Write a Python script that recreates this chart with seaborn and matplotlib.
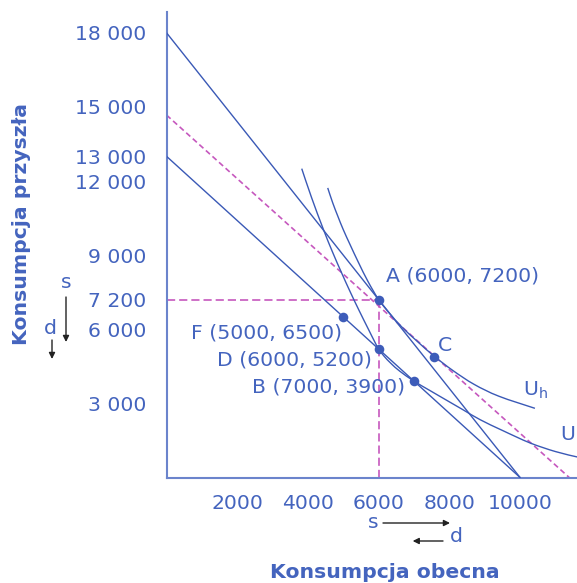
import matplotlib
matplotlib.use("Agg")
import matplotlib.pyplot as plt
from matplotlib.path import Path
from matplotlib.patches import PathPatch, FancyArrowPatch
import seaborn as sns

# Budget lines: present consumption (x) against future consumption (y)
budget_high_x = [0, 10000]
budget_high_y = [18000, 0]
budget_low_x = [0, 10000]
budget_low_y = [13000, 0]

# Compensating budget line, tangent to U_h at C
comp_x = [0, 11390]
comp_y = [14670, 0]

# Indifference curves
uh_x = [4560, 4700, 4850, 5000, 5200, 5430, 5700, 6000, 6300, 6650,
        7100, 7570, 8100, 8700, 9400, 10420]
uh_y = [11720, 11120, 10560, 10030, 9400, 8700, 7930, 7200, 6660, 6100,
        5500, 4910, 4330, 3770, 3290, 2800]
ul_x = [3825, 4100, 4435, 4700, 4950, 5200, 5450, 5700, 5900, 6000, 6150,
        6350, 6600, 7000, 7450, 7930, 8400, 8870, 9500, 10280, 11000, 11620]
ul_y = [12500, 11340, 10050, 9110, 8290, 7500, 6750, 6030, 5460, 5200, 4915,
        4615, 4300, 3900, 3520, 3120, 2730, 2340, 1905, 1400, 1050, 830]

# Marked consumption bundles
point_names = ["A", "B", "C", "D", "F"]
point_x = [6000, 7000, 7570, 6000, 5000]
point_y = [7200, 3900, 4890, 5200, 6500]
point_shows_value = [True, True, False, True, True]

# Axis ticks
x_ticks = [2000, 4000, 6000, 8000, 10000]
x_tick_labels = ["2000", "4000", "6000", "8000", "10000"]
y_ticks = [3000, 6000, 7200, 9000, 12000, 13000, 15000, 18000]
y_tick_labels = ["3 000", "6 000", "7 200", "9 000", "12 000", "13 000",
                 "15 000", "18 000"]

x_title = "Konsumpcja obecna"
y_title = "Konsumpcja przyszła"

LINE = "#3a59b6"
TEXT = "#4464be"
AXIS = "#6b84cc"
DOT = "#3d5cb9"
MAGENTA = "#c658be"
ARROW = "#222222"
FS = 14.7

sns.set_style("white")
plt.rcParams["font.family"] = ["DejaVu Sans"]

W, H = 577, 583
fig = plt.figure(figsize=(W / 100, H / 100), dpi=100)
ax = fig.add_axes([166.5 / W, 1 - 477.5 / H, (W - 166.5) / W, (477.5 - 12) / H])
ax.set_xlim(0, 11610)
ax.set_ylim(0, 18840)


def smooth_curve(xs, ys, **kw):
    """Draw a smooth Bezier path through the given curve points."""
    pts = list(zip(xs, ys))
    n = len(pts)
    verts = [pts[0]]
    codes = [Path.MOVETO]
    for i in range(n - 1):
        p0 = pts[i - 1] if i > 0 else pts[i]
        p1 = pts[i]
        p2 = pts[i + 1]
        p3 = pts[i + 2] if i + 2 < n else pts[i + 1]
        c1 = (p1[0] + (p2[0] - p0[0]) / 6, p1[1] + (p2[1] - p0[1]) / 6)
        c2 = (p2[0] - (p3[0] - p1[0]) / 6, p2[1] - (p3[1] - p1[1]) / 6)
        verts += [c1, c2, p2]
        codes += [Path.CURVE4] * 3
    ax.add_patch(PathPatch(Path(verts, codes), fill=False, **kw))


# guide lines to A
ax.plot([0, point_x[0]], [point_y[0], point_y[0]], color=MAGENTA, lw=1.2,
        linestyle=(0, (4.9, 2.4)), zorder=2)
ax.plot([point_x[0], point_x[0]], [0, point_y[0]], color=MAGENTA, lw=1.2,
        linestyle=(0, (4.9, 2.4)), zorder=2)

sns.lineplot(x=comp_x, y=comp_y, ax=ax, color=MAGENTA, lw=1.2,
             linestyle=(0, (3.3, 2.0)), sort=False, estimator=None, zorder=2)
for xs, ys in [(budget_high_x, budget_high_y), (budget_low_x, budget_low_y)]:
    sns.lineplot(x=xs, y=ys, ax=ax, color=LINE, lw=1.0, sort=False,
                 estimator=None, zorder=3)
smooth_curve(uh_x, uh_y, edgecolor=LINE, lw=1.0, zorder=3)
smooth_curve(ul_x, ul_y, edgecolor=LINE, lw=1.0, zorder=3)

sns.scatterplot(x=point_x, y=point_y, ax=ax, s=48, color=DOT,
                edgecolor=DOT, linewidth=0, zorder=5)

# point labels (offsets in points)
offsets = {"A": (5.5, 16.8, "left"), "B": (-6.5, -4.5, "right"),
           "C": (3.0, 8.2, "left"), "D": (-5.0, -7.9, "right"),
           "F": (-1.2, -11.8, "right")}
for name, px, py, show in zip(point_names, point_x, point_y, point_shows_value):
    label = f"{name} ({px}, {py})" if show else name
    dx, dy, ha = offsets[name]
    ax.annotate(label, xy=(px, py), xytext=(dx, dy), textcoords="offset points",
                ha=ha, va="center", color=TEXT, fontsize=FS, zorder=6)

ax.text(10076, 3541, r"U$_\mathregular{h}$", color=TEXT, fontsize=FS,
        ha="left", va="center")
ax.text(11132, 1720, r"U$_\mathregular{l}$", color=TEXT, fontsize=FS,
        ha="left", va="center", clip_on=False)

# axes styling
for side in ["top", "right"]:
    ax.spines[side].set_visible(False)
for side in ["left", "bottom"]:
    ax.spines[side].set_color(AXIS)
    ax.spines[side].set_linewidth(1.5)

ax.set_xticks(x_ticks)
ax.set_xticklabels(x_tick_labels)
ax.set_yticks(y_ticks)
ax.set_yticklabels(y_tick_labels)
ax.tick_params(axis="x", length=5.8, width=1.2, color=AXIS, labelcolor=TEXT,
               labelsize=FS, pad=6.0, direction="out")
ax.tick_params(axis="y", length=4.8, width=1.2, color=AXIS, labelcolor=TEXT,
               labelsize=FS, pad=9.6, direction="out")

ax.set_xlabel(x_title, color=TEXT, fontsize=FS, fontweight="bold")
ax.set_ylabel(y_title, color=TEXT, fontsize=FS, fontweight="bold")
ax.xaxis.set_label_coords((385 - 166.5) / (W - 166.5), (477.5 - 572) / 465.5)
ax.xaxis.label.set_va("center")
ax.yaxis.set_label_coords((22 - 166.5) / (W - 166.5), (477.5 - 224) / 465.5)
ax.yaxis.label.set_va("center")


def fpos(px, py):
    return (px / W, 1 - py / H)


# direction arrows for saving (s) and borrowing (d)
def arrow(p0, p1):
    fig.add_artist(FancyArrowPatch(
        fpos(*p0), fpos(*p1), transform=fig.transFigure,
        arrowstyle="-|>", mutation_scale=9, color=ARROW, lw=1.0,
        shrinkA=0, shrinkB=0))


fig.text(*fpos(66, 283), "s", color=TEXT, fontsize=FS, ha="center", va="center")
arrow((66, 297), (66, 342))
fig.text(*fpos(50, 328), "d", color=TEXT, fontsize=FS, ha="center", va="center")
arrow((52, 340), (52, 359))
fig.text(*fpos(373.3, 522), "s", color=TEXT, fontsize=FS, ha="center", va="center")
arrow((383, 523), (450, 523))
fig.text(*fpos(456.7, 537), "d", color=TEXT, fontsize=FS, ha="center", va="center")
arrow((443, 541), (412.7, 541))

fig.savefig("out.png", dpi=100)
